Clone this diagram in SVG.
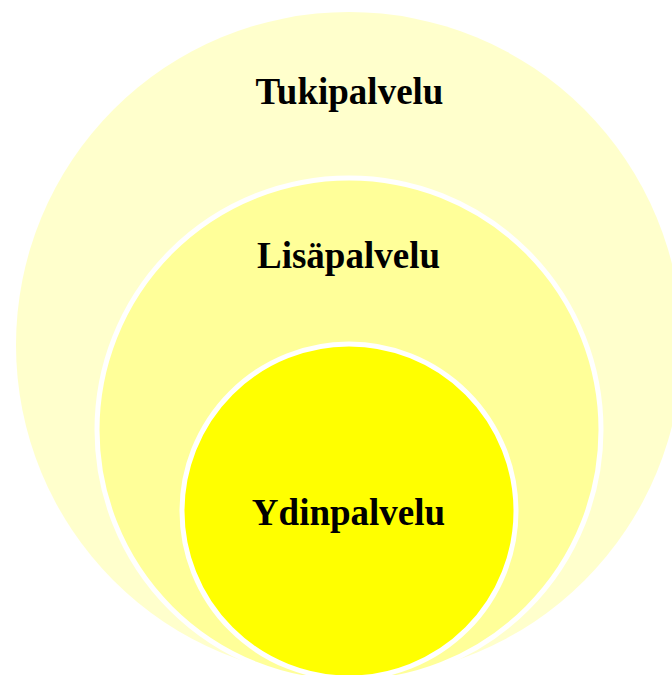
<svg xmlns="http://www.w3.org/2000/svg" width="672" height="675" viewBox="0 0 672 675">
<style>
.lbl{font-family:"Liberation Serif","Times New Roman",serif;font-weight:bold;font-size:37px;fill:#000;text-anchor:middle}
.ring{stroke:#fff;stroke-width:5}
</style>
<rect width="672" height="675" fill="#fff"/>
<g id="tukipalvelu">
<circle cx="349" cy="345" r="333" fill="#FFFFCC"/>
<text class="lbl" x="349.5" y="104">Tukipalvelu</text>
</g>
<g id="lisapalvelu">
<circle class="ring" cx="349" cy="430" r="252" fill="#FFFF99"/>
<text class="lbl" x="348.5" y="268">Lisäpalvelu</text>
</g>
<g id="ydinpalvelu">
<circle class="ring" cx="349" cy="511" r="167" fill="#FFFF00"/>
<text class="lbl" x="348.5" y="525">Ydinpalvelu</text>
</g>
<g id="connectors"/>
</svg>
